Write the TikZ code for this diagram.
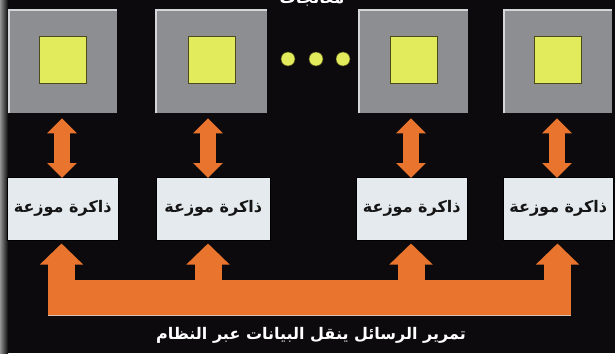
\documentclass[tikz,border=0pt]{standalone}
\usepackage{fontspec}
\usetikzlibrary{arrows.meta}
\newfontfamily\arabicfont[Script=Arabic]{DejaVu Sans}
\TeXXeTstate=1
\definecolor{bg}{HTML}{0C0A0C}
\definecolor{procgray}{HTML}{8C8E91}
\definecolor{procedge}{HTML}{D4D6D8}
\definecolor{chipyellow}{HTML}{E1EB5C}
\definecolor{chipedge}{HTML}{4A4A1A}
\definecolor{memfill}{HTML}{E4EAEE}
\definecolor{busorange}{HTML}{E8742E}
\definecolor{textdark}{HTML}{151515}
\tikzset{
  procbox/.style={fill=procgray, draw=none, minimum width=108pt, minimum height=103pt, inner sep=0pt, anchor=north west},
  chipbox/.style={fill=chipyellow, draw=chipedge, line width=0.6pt, minimum width=47pt, minimum height=47pt, inner sep=0pt},
  membox/.style={fill=memfill, draw=black, line width=0.5pt, minimum height=63pt, inner sep=0pt, anchor=north west, text=textdark, font=\arabicfont\bfseries\fontsize{16}{18}\selectfont},
  dotmark/.style={circle, fill=chipyellow, draw=chipedge, line width=0.5pt, minimum size=14pt, inner sep=0pt},
  dblarrow/.style={busorange, line width=16pt, {Triangle[length=15pt,width=29pt]}-{Triangle[length=15pt,width=29pt]}, shorten <=5pt, shorten >=-1pt},
  stemarrow/.style={busorange, line width=27pt, -{Triangle[length=21pt,width=42pt]}, shorten >=3pt},
  labeltext/.style={text=white, font=\arabicfont\bfseries\fontsize{16}{18}\selectfont}
}
\begin{document}
\begin{tikzpicture}[x=1pt, y=-1pt]
\useasboundingbox (0,0) rectangle (615,353);
\fill[bg] (0,0) rectangle (615,353);
\shade[left color=black!70!white!60, right color=bg] (0,0) rectangle (8,353);

% top title (cut off by the frame, as in the reference)
\begin{scope}
\clip (0,0) rectangle (615,353);
\node[labeltext, anchor=base] (title) at (312,4) {\beginR معالجات\endR};
\end{scope}

% processors
\node[procbox] (p1) at (9,10) {};
\node[procbox, minimum width=111pt] (p2) at (156,10) {};
\node[procbox, minimum width=109pt] (p3) at (359,10) {};
\node[procbox] (p4) at (504,10) {};
\foreach \i in {1,...,4}{
  \draw[procedge, line width=1.6pt] (p\i.south west) -- (p\i.north west) -- (p\i.north east);
  \node[chipbox] (c\i) at ([yshift=1.5pt]p\i.center) {};
}

% ellipsis dots
\node[dotmark] (d1) at (288,59) {};
\node[dotmark] (d2) at (316,59) {};
\node[dotmark] (d3) at (343,59) {};

% distributed memories
\node[membox, minimum width=111pt] (m1) at (7,177) {\beginR ذاكرة موزعة\endR};
\node[membox, minimum width=114pt] (m2) at (156,177) {\beginR ذاكرة موزعة\endR};
\node[membox, minimum width=111pt] (m3) at (356,177) {\beginR ذاكرة موزعة\endR};
\node[membox, minimum width=110pt] (m4) at (503,177) {\beginR ذاكرة موزعة\endR};

% processor <-> memory arrows
\draw[dblarrow] (p1.south -| 62,0) -- (m1.north -| 62,0);
\draw[dblarrow] (p2.south -| 208,0) -- (m2.north -| 208,0);
\draw[dblarrow] (p3.south -| 411,0) -- (m3.north -| 411,0);
\draw[dblarrow] (p4.south -| 557,0) -- (m4.north -| 557,0);

% message passing bus
\fill[busorange] (48,280) rectangle (571,315);
\draw[stemarrow] (61.5,297) -- (m1.south -| 61.5,0);
\draw[stemarrow] (208,297) -- (m2.south -| 208,0);
\draw[stemarrow] (411,297) -- (m3.south -| 411,0);
\draw[stemarrow] (557.5,297) -- (m4.south -| 557.5,0);
\draw[procedge!80!busorange, line width=1pt] (48,315.5) -- (571,315.5);

% caption
\node[labeltext] (caption) at (311,335) {\beginR تمرير الرسائل ينقل البيانات عبر النظام\endR};
\end{tikzpicture}
\end{document}
